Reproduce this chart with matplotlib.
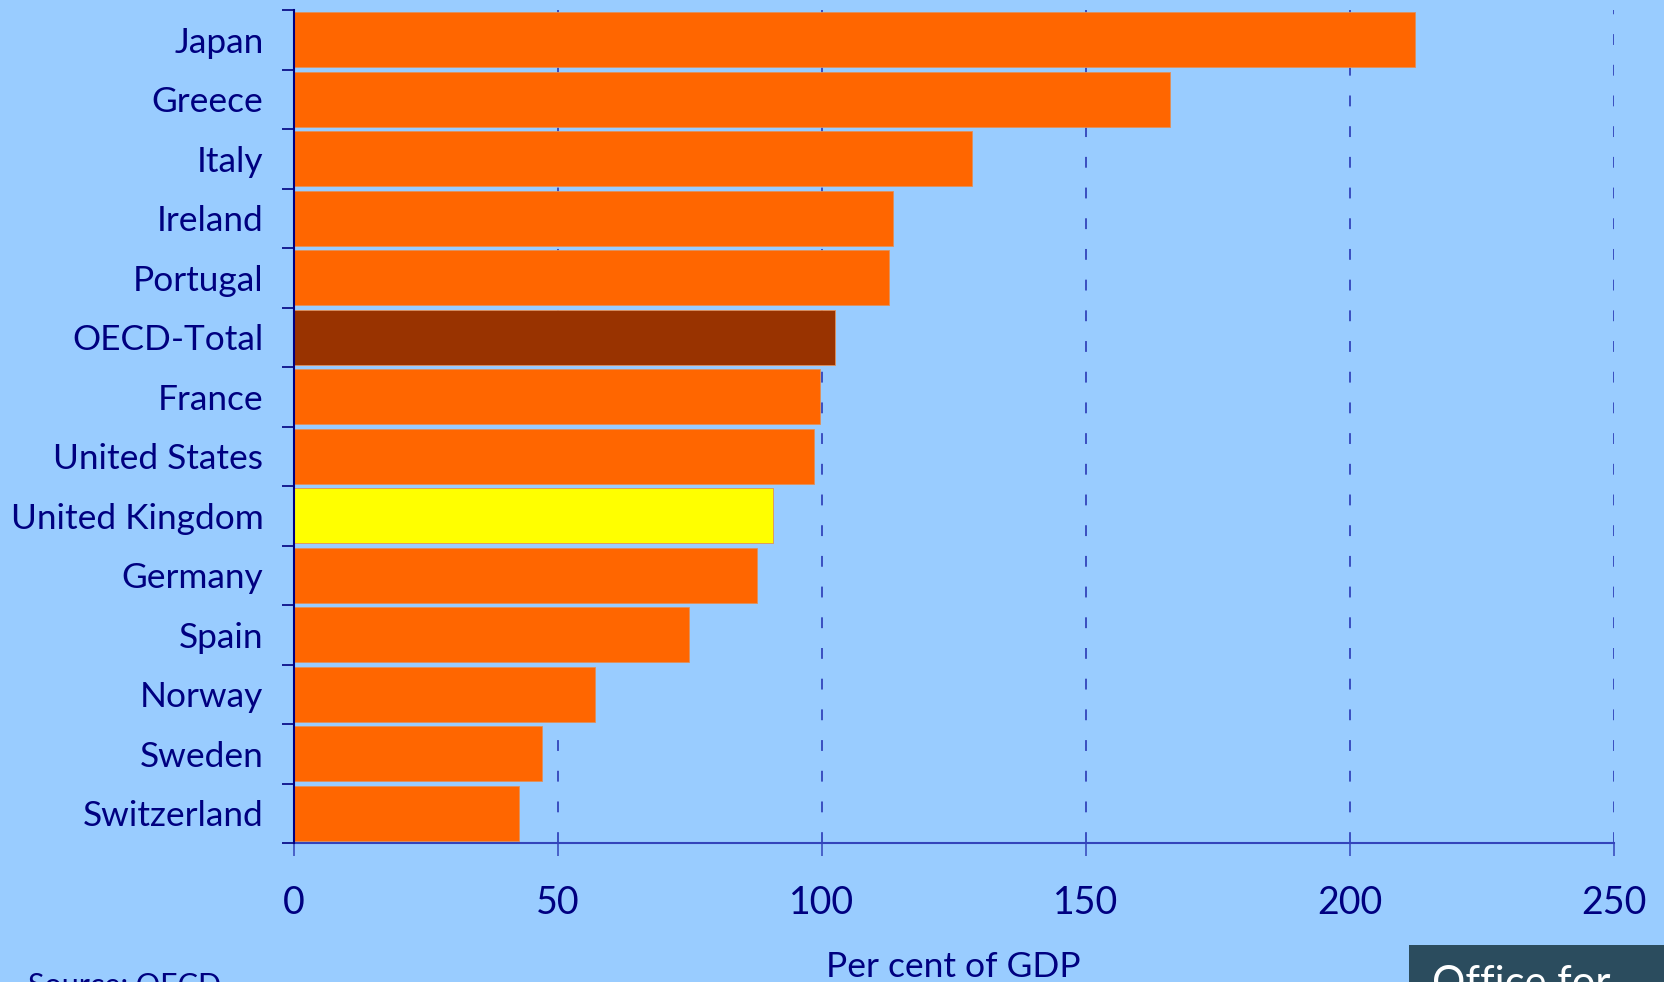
import matplotlib
matplotlib.use("Agg")
import matplotlib.pyplot as plt
from matplotlib.patches import Rectangle

countries = ["Japan", "Greece", "Italy", "Ireland", "Portugal", "OECD-Total",
             "France", "United States", "United Kingdom", "Germany", "Spain",
             "Norway", "Sweden", "Switzerland"]
debt_pct_gdp = [212.4, 166.0, 128.5, 113.4, 112.6, 102.4, 99.6, 98.4, 90.7,
                87.7, 74.8, 57.1, 46.9, 42.6]
x_ticks = [0, 50, 100, 150, 200, 250]

BG = "#99CCFF"
NAVY = "#000080"
GRID = "#3344BB"
ORANGE = "#FF6600"
colors = {"OECD-Total": "#993300", "United Kingdom": "#FFFF00"}

plt.rcParams["font.family"] = ["Lato", "DejaVu Sans"]

fig = plt.figure(figsize=(16.65, 9.82), dpi=100, facecolor=BG)
ax = fig.add_axes([294 / 1665, 1 - 843 / 982, 1320 / 1665, 833 / 982])
ax.set_facecolor(BG)

n = len(countries)
ypos = list(range(n))
bar_colors = [colors.get(c, ORANGE) for c in countries]
ax.barh(ypos, debt_pct_gdp, height=0.93, color=bar_colors,
        edgecolor="#E0905A", linewidth=0.6, zorder=2)

ax.set_xlim(0, 250)
ax.set_ylim(n - 0.5, -0.5)

# category labels sit between boundary ticks
ax.set_yticks(ypos)
ax.set_yticklabels(countries, fontsize=25.4, color=NAVY)
ax.tick_params(axis="y", which="major", length=0, pad=22)
for lbl in ax.get_yticklabels():
    lbl.set_y(lbl.get_position()[1])
ax.set_yticks([i - 0.5 for i in range(n + 1)], minor=True)
ax.tick_params(axis="y", which="minor", length=8.6, width=1.2, color=NAVY)

ax.set_xticks(x_ticks)
ax.set_xticklabels([str(t) for t in x_ticks], fontsize=27, color=NAVY)
ax.tick_params(axis="x", length=9.4, width=1.1, color=GRID, pad=21)

for t in x_ticks[1:]:
    ax.axvline(t, color=GRID, linewidth=1.3, linestyle=(0, (6, 11)), zorder=1)

for side in ("top", "right"):
    ax.spines[side].set_visible(False)
ax.spines["left"].set_color(NAVY)
ax.spines["left"].set_linewidth(1.5)
ax.spines["left"].set_zorder(3)
ax.spines["bottom"].set_color(GRID)
ax.spines["bottom"].set_linewidth(1.5)

fig.text(953 / 1665, 1 - 977 / 982, "Per cent of GDP", fontsize=25.5,
         color=NAVY, ha="center", va="baseline")
fig.text(28 / 1665, 1 - 995 / 982, "Source: OECD", fontsize=22,
         color=NAVY, ha="left", va="baseline")

fig.patches.append(Rectangle((1409 / 1665, 0), 1 - 1409 / 1665, 37 / 982,
                             transform=fig.transFigure, facecolor="#2B4C5E",
                             edgecolor="none"))
fig.text(1432 / 1665, 1 - 996 / 982, "Office for", fontsize=30,
         color="white", ha="left", va="baseline")

fig.savefig("out.png", dpi=100, facecolor=BG)
